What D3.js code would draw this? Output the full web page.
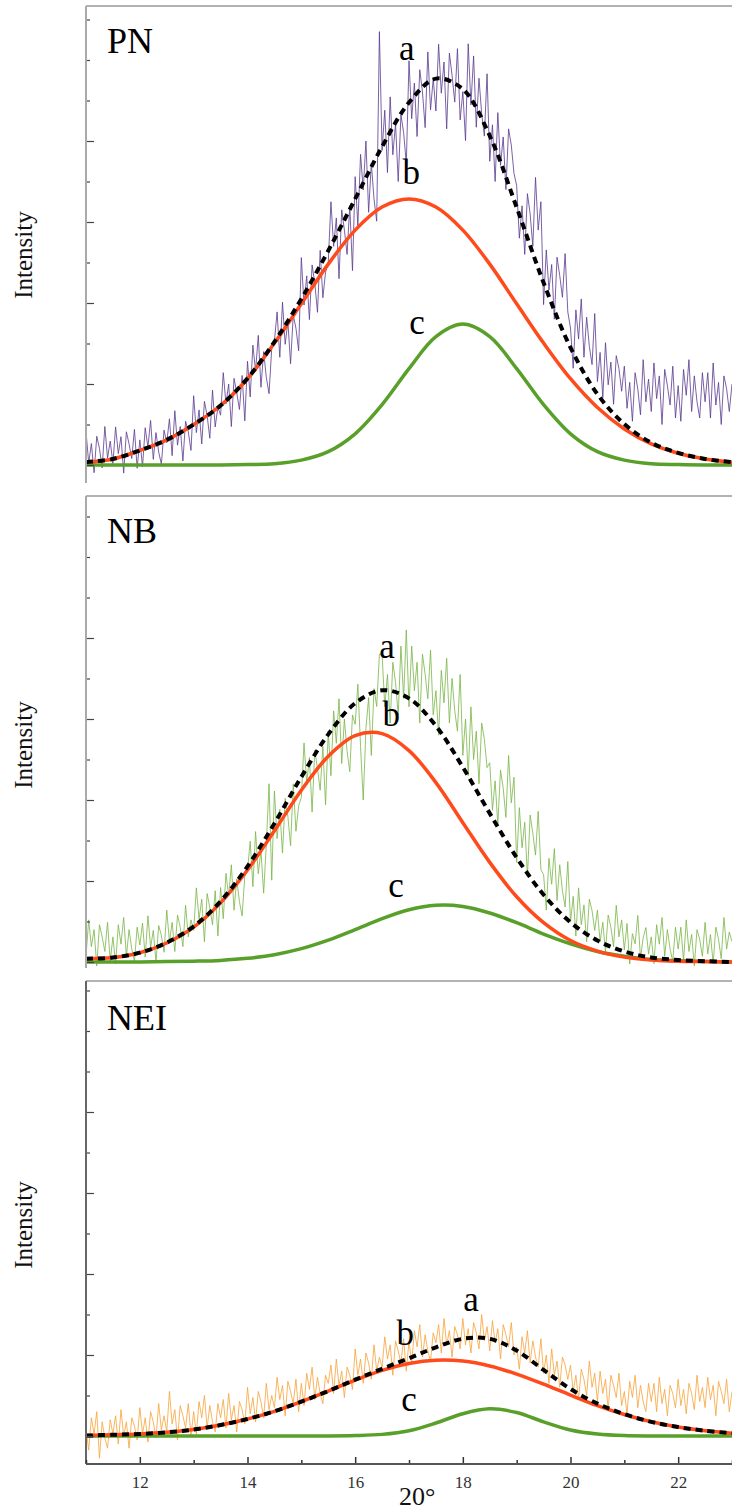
<!DOCTYPE html>
<html>
<head>
<meta charset="utf-8">
<script src="https://cdn.jsdelivr.net/npm/d3@7"></script>
<style>
  body { margin: 0; background: #fff; }
</style>
</head>
<body>
<svg id="vis"></svg>
<script>
const width = 732;
const height = 1510;
const serif = '"Liberation Serif", "Times New Roman", serif';

// axis ticks
const xTicksMajor = [12, 14, 16, 18, 20, 22];
const xTicksMinor = [11, 13, 15, 17, 19, 21, 23];
const yTicksMajor = [0, 2, 4, 6, 8];
const yTicksMinor = [1, 3, 5, 7, 9, 10, 11];

const panelNames = ["PN", "NB", "NEI"];
const noiseColors = ["#5b3c8f", "#7ab648", "#f7a33a"];

// measured pattern, one value every 0.05 deg from 11 to 23 (ten per row = 0.5 deg)
const pnRaw = [
  0.83, 0.05, 0.53, -0.19, 0.71, 0.41, -0.07, 0.95, 0.17, 0.59,
  0.04, 0.94, 0.28, 0.70, -0.20, 0.82, 0.52, 0.16, 0.88, -0.08,
  0.62, -0.04, 0.92, 0.44, 1.10, 0.14, 0.80, 0.32, 0.02, 0.86,
  0.55, 1.14, 0.23, 1.34, 0.49, 0.95, 0.10, 1.08, 0.82, 0.36,
  1.71, 0.80, 1.36, 0.52, 1.57, 1.22, 0.66, 1.85, 0.94, 1.43,
  1.23, 2.28, 1.51, 2.00, 0.95, 2.14, 1.79, 1.37, 2.21, 1.09,
  2.56, 1.68, 2.96, 2.32, 3.20, 1.92, 2.80, 2.16, 1.76, 2.88,
  3.06, 3.78, 2.66, 4.02, 2.98, 3.54, 2.50, 3.70, 3.38, 2.82,
  5.12, 3.95, 4.67, 3.59, 4.94, 4.49, 3.77, 5.30, 4.13, 4.76,
  5.00, 6.50, 5.40, 6.10, 4.60, 6.30, 5.80, 5.20, 6.40, 4.80,
  7.12, 5.91, 7.67, 6.79, 8.00, 6.24, 7.45, 6.57, 6.02, 10.70,
  7.77, 8.76, 7.22, 9.09, 7.66, 8.43, 7.00, 8.65, 8.21, 7.44,
  9.98, 8.55, 9.43, 8.11, 9.76, 9.21, 8.33, 10.20, 8.77, 9.54,
  8.74, 10.39, 9.18, 9.95, 8.30, 10.17, 9.62, 8.96, 10.28, 8.52,
  9.22, 8.01, 10.40, 8.89, 10.10, 8.34, 9.55, 8.67, 8.12, 9.66,
  7.50, 8.40, 7.00, 8.70, 7.40, 8.10, 6.80, 8.30, 7.90, 7.20,
  6.90, 5.60, 6.40, 5.20, 6.70, 6.20, 5.40, 7.10, 5.80, 6.50,
  3.96, 5.31, 4.32, 4.95, 3.60, 5.13, 4.68, 4.14, 5.22, 3.78,
  3.38, 2.39, 3.83, 3.11, 4.10, 2.66, 3.65, 2.93, 2.48, 3.74,
  2.06, 2.78, 1.66, 3.02, 1.98, 2.54, 1.50, 2.70, 2.38, 1.82,
  2.44, 1.40, 2.04, 1.08, 2.28, 1.88, 1.24, 2.60, 1.56, 2.12,
  1.32, 2.52, 1.64, 2.20, 1.00, 2.36, 1.96, 1.48, 2.44, 1.16,
  1.96, 1.08, 2.36, 1.72, 2.60, 1.32, 2.20, 1.56, 1.16, 2.28,
  1.56, 2.28, 1.16, 2.52, 1.48, 2.04, 1.00, 2.20, 1.88, 1.32,
  2.00
];
const nbRaw = [
  0.14, 1.04, 0.38, 0.80, -0.10, 0.92, 0.62, 0.26, 0.98, 0.02,
  0.62, -0.04, 0.92, 0.44, 1.10, 0.14, 0.80, 0.32, 0.02, 0.86,
  0.42, 0.96, 0.12, 1.14, 0.36, 0.78, 0.00, 0.90, 0.66, 0.24,
  1.28, 0.50, 0.98, 0.26, 1.16, 0.86, 0.38, 1.40, 0.62, 1.04,
  0.78, 1.83, 1.06, 1.55, 0.50, 1.69, 1.34, 0.92, 1.76, 0.64,
  1.84, 1.07, 2.19, 1.63, 2.40, 1.28, 2.05, 1.49, 1.14, 2.12,
  2.26, 2.98, 1.86, 3.22, 2.18, 2.74, 1.70, 2.90, 4.40, 2.02,
  4.22, 3.05, 3.77, 2.69, 4.04, 3.59, 2.87, 4.40, 3.23, 3.86,
  4.06, 5.41, 4.42, 5.05, 3.70, 5.23, 4.78, 4.24, 5.32, 3.88,
  5.70, 4.60, 6.20, 5.40, 6.50, 4.90, 6.00, 5.20, 4.70, 6.10,
  5.87, 6.86, 5.32, 4.00, 5.76, 6.53, 5.10, 6.75, 6.31, 7.60,
  7.60, 6.30, 7.10, 5.90, 7.40, 6.90, 6.10, 7.80, 6.50, 8.20,
  6.30, 7.80, 6.70, 7.40, 5.90, 7.60, 7.10, 6.50, 7.70, 6.10,
  6.70, 5.60, 7.20, 6.40, 7.50, 5.90, 7.00, 6.20, 5.70, 7.10,
  5.10, 6.00, 4.60, 6.30, 5.00, 5.70, 4.40, 5.90, 5.50, 4.80,
  4.92, 3.75, 4.47, 3.39, 4.74, 4.29, 3.57, 5.10, 3.93, 4.56,
  2.46, 3.81, 2.82, 3.45, 2.10, 3.63, 3.18, 2.64, 3.72, 2.28,
  2.16, 1.28, 2.56, 1.92, 2.80, 1.52, 2.40, 1.76, 1.36, 2.48,
  0.99, 1.62, 0.64, 1.83, 0.92, 1.41, 0.50, 1.55, 1.27, 0.78,
  1.28, 0.50, 0.98, 0.26, 1.16, 0.86, 0.38, 1.40, 0.62, 1.04,
  0.30, 0.95, -0.05, 0.70, 0.45, 1.15, 0.10, 0.60, 0.85, 0.20,
  0.62, -0.04, 0.92, 0.44, 1.10, 0.14, 0.80, 0.32, 0.02, 0.86,
  0.32, 0.86, 0.02, 1.04, 0.26, 0.68, -0.10, 0.80, 0.56, 0.14,
  0.98, 0.20, 0.68, -0.04, 0.86, 0.56, 0.08, 1.10, 0.32, 0.74,
  0.50
];
const neiRaw = [
  0.20, -0.35, 0.45, 0.05, 0.60, -0.55, 0.35, -0.05, -0.30, 0.40,
  0.05, 0.50, -0.20, 0.65, 0.00, 0.35, -0.30, 0.45, 0.25, -0.10,
  0.70, 0.05, 0.45, -0.15, 0.60, 0.35, -0.05, 0.80, 0.15, 0.50,
  0.10, 1.10, 0.30, 0.65, -0.10, 0.75, 0.50, 0.20, 0.80, 0.00,
  0.60, 0.05, 0.85, 0.45, 1.00, 0.20, 0.75, 0.35, 0.10, 0.80,
  0.45, 0.90, 0.20, 1.05, 0.40, 0.75, 0.10, 0.85, 0.65, 0.30,
  1.20, 0.55, 0.95, 0.35, 1.10, 0.85, 0.45, 1.30, 0.65, 1.00,
  0.70, 1.45, 0.90, 1.25, 0.50, 1.35, 1.10, 0.80, 1.40, 0.60,
  1.30, 0.75, 1.55, 1.15, 1.70, 0.90, 1.45, 1.05, 0.80, 1.50,
  1.30, 1.75, 1.05, 1.90, 1.25, 1.60, 0.95, 1.70, 1.50, 1.15,
  2.15, 1.50, 1.90, 1.30, 2.05, 1.80, 1.40, 2.25, 1.60, 1.95,
  1.70, 2.45, 1.90, 2.25, 1.50, 2.35, 2.10, 1.80, 2.40, 1.60,
  2.35, 1.80, 2.60, 2.20, 2.75, 1.95, 2.50, 2.10, 1.85, 2.55,
  2.30, 2.75, 2.05, 2.90, 2.25, 2.60, 1.95, 2.70, 2.50, 2.15,
  2.90, 2.25, 2.65, 2.05, 2.80, 2.55, 2.15, 3.00, 2.35, 2.70,
  2.10, 2.85, 2.30, 2.65, 1.90, 2.75, 2.50, 2.20, 2.80, 2.00,
  2.20, 1.65, 2.45, 2.05, 2.60, 1.80, 2.35, 1.95, 1.70, 2.40,
  1.55, 2.00, 1.30, 2.15, 1.50, 1.85, 1.20, 1.95, 1.75, 1.40,
  1.75, 1.10, 1.50, 0.90, 1.65, 1.40, 1.00, 1.85, 1.20, 1.55,
  0.85, 1.60, 1.05, 1.40, 0.65, 1.50, 1.25, 0.95, 1.55, 0.75,
  1.10, 0.55, 1.35, 0.95, 1.50, 0.70, 1.25, 0.85, 0.60, 1.30,
  0.85, 1.30, 0.60, 1.45, 0.80, 1.15, 0.50, 1.25, 1.05, 0.70,
  1.40, 0.75, 1.15, 0.55, 1.30, 1.05, 0.65, 1.50, 0.85, 1.20,
  0.70, 1.45, 0.90, 1.25, 0.50, 1.35, 1.10, 0.80, 1.40, 0.60,
  1.10
];

// fitted curves, one value every 0.5 deg from 11 to 23
// a = total fit (dashed), b and c = components
const pnA = [0.07, 0.15, 0.36, 0.62, 1.00, 1.47, 2.14, 3.04, 4.10, 5.29, 6.57, 7.86, 8.95, 9.54, 9.28, 8.13, 6.36, 4.50, 2.90, 1.75, 1.01, 0.55, 0.30, 0.15, 0.07];
const pnB = [0.07, 0.15, 0.36, 0.62, 1.00, 1.47, 2.13, 3.01, 3.98, 4.96, 5.80, 6.37, 6.57, 6.37, 5.80, 4.96, 3.98, 3.01, 2.13, 1.42, 0.89, 0.52, 0.29, 0.15, 0.07];
const pnC = [0, 0, 0, 0, 0, 0, 0.01, 0.03, 0.12, 0.33, 0.77, 1.49, 2.38, 3.17, 3.48, 3.17, 2.38, 1.49, 0.77, 0.33, 0.12, 0.03, 0.01, 0, 0];

const nbA = [0.08, 0.11, 0.23, 0.48, 0.88, 1.50, 2.36, 3.42, 4.57, 5.62, 6.39, 6.71, 6.51, 5.83, 4.81, 3.67, 2.58, 1.66, 0.98, 0.53, 0.26, 0.11, 0.05, 0.02, 0];
const nbB = [0.08, 0.11, 0.23, 0.47, 0.86, 1.46, 2.27, 3.24, 4.24, 5.08, 5.59, 5.64, 5.22, 4.43, 3.44, 2.46, 1.61, 0.97, 0.53, 0.27, 0.12, 0.05, 0.02, 0.01, 0];
const nbC = [0, 0, 0, 0.01, 0.02, 0.04, 0.09, 0.18, 0.33, 0.54, 0.80, 1.07, 1.29, 1.40, 1.37, 1.21, 0.97, 0.69, 0.45, 0.26, 0.14, 0.06, 0.03, 0.01, 0];

const neiA = [0.01, 0.03, 0.05, 0.09, 0.16, 0.27, 0.42, 0.61, 0.85, 1.11, 1.39, 1.66, 1.92, 2.19, 2.40, 2.40, 2.11, 1.63, 1.16, 0.80, 0.54, 0.35, 0.22, 0.13, 0.07];
const neiB = [0.01, 0.03, 0.05, 0.09, 0.16, 0.27, 0.42, 0.61, 0.85, 1.11, 1.38, 1.62, 1.79, 1.87, 1.85, 1.73, 1.53, 1.28, 1.01, 0.75, 0.53, 0.35, 0.22, 0.13, 0.07];
const neiC = [0, 0, 0, 0, 0, 0, 0, 0, 0, 0, 0.01, 0.04, 0.13, 0.32, 0.55, 0.67, 0.58, 0.35, 0.15, 0.05, 0.01, 0, 0, 0, 0];

// curve letters: [text, 2theta, intensity]
const pnLabels = [["a", 16.96, 10.0], ["b", 17.04, 6.94], ["c", 17.15, 3.23]];
const nbLabels = [["a", 16.59, 7.5], ["b", 16.67, 5.83], ["c", 16.76, 1.6]];
const neiLabels = [["a", 18.15, 3.09], ["b", 16.93, 2.25], ["c", 17.0, 0.62]];

const rawSets = [pnRaw, nbRaw, neiRaw];
const fitSets = [[pnA, pnB, pnC], [nbA, nbB, nbC], [neiA, neiB, neiC]];
const labelSets = [pnLabels, nbLabels, neiLabels];

const rawX = d3.range(241).map(i => 11 + i / 20);
const fitX = d3.range(25).map(i => 11 + i / 2);

// panel boxes in pixels: top border, bottom of plot, baseline (intensity 0)
const boxes = [
  { top: 6, bottom: 483, base: 465, axisColor: "#aaa" },
  { top: 496, bottom: 968, base: 962, axisColor: "#aaa" },
  { top: 981, bottom: 1464, base: 1436, axisColor: "#666" }
];
const left = 86, right = 732;
const unit = 40.5;

const svg = d3.select("svg#vis").attr("width", width).attr("height", height);

const x = d3.scaleLinear().domain([11, 23]).range([left, right]);

boxes.forEach((box, p) => {
  const y = d3.scaleLinear().domain([0, 10]).range([box.base, box.base - 10 * unit]);
  const g = svg.append("g");

  g.append("clipPath").attr("id", "clip" + p)
    .append("rect")
    .attr("x", left).attr("y", box.top)
    .attr("width", right - left).attr("height", box.bottom - box.top);

  const plot = g.append("g").attr("clip-path", "url(#clip" + p + ")");

  const rawLine = d3.line().x((d, i) => x(rawX[i])).y(d => y(d));
  plot.append("path")
    .attr("d", rawLine(rawSets[p]))
    .attr("fill", "none")
    .attr("stroke", noiseColors[p])
    .attr("stroke-width", 0.9)
    .attr("stroke-opacity", 0.9);

  const fitLine = d3.line()
    .x((d, i) => x(fitX[i]))
    .y(d => y(d))
    .curve(d3.curveCatmullRom.alpha(0.5));

  const [fa, fb, fc] = fitSets[p];
  plot.append("path").attr("d", fitLine(fc))
    .attr("fill", "none").attr("stroke", "#58a02a").attr("stroke-width", 3.5);
  plot.append("path").attr("d", fitLine(fb))
    .attr("fill", "none").attr("stroke", "#ff4a1c").attr("stroke-width", 3.5);
  plot.append("path").attr("d", fitLine(fa))
    .attr("fill", "none").attr("stroke", "#000").attr("stroke-width", 4)
    .attr("stroke-dasharray", "7,5");

  // top border
  g.append("line")
    .attr("x1", left).attr("x2", right)
    .attr("y1", box.top).attr("y2", box.top)
    .attr("stroke", "#999").attr("stroke-width", 1.5);

  // left axis, ticks pointing inward
  const yAxisG = g.append("g").attr("transform", "translate(" + left + ",0)");
  yAxisG.append("g")
    .call(d3.axisRight(y).tickValues(yTicksMajor).tickSize(8).tickFormat(""))
    .call(s => s.select(".domain").remove());
  yAxisG.append("g")
    .call(d3.axisRight(y).tickValues(yTicksMinor.filter(v => y(v) > box.top + 4)).tickSize(4).tickFormat(""))
    .call(s => s.select(".domain").remove());
  yAxisG.selectAll(".tick line").attr("stroke", "#444").attr("stroke-width", 1.2);
  yAxisG.append("line")
    .attr("x1", 0).attr("x2", 0)
    .attr("y1", box.top).attr("y2", box.bottom)
    .attr("stroke", box.axisColor).attr("stroke-width", 2);

  g.append("text")
    .attr("x", 107).attr("y", [53, 543, 1030][p])
    .style("font-family", serif)
    .style("font-size", "36px")
    .attr("fill", "#000")
    .text(panelNames[p]);

  const midY = [255, 745, 1225][p];
  g.append("text")
    .attr("transform", "translate(32," + midY + ") rotate(-90)")
    .attr("text-anchor", "middle")
    .style("font-family", serif)
    .style("font-size", "25px")
    .attr("fill", "#111")
    .text("Intensity");

  g.selectAll("text.curve")
    .data(labelSets[p])
    .enter()
    .append("text")
    .attr("class", "curve")
    .attr("x", d => x(d[1]))
    .attr("y", d => y(d[2]))
    .attr("text-anchor", "middle")
    .style("font-family", serif)
    .style("font-size", "35px")
    .attr("fill", "#000")
    .text(d => d[0]);

  if (p === 2) {
    const xAxisG = g.append("g").attr("transform", "translate(0," + box.bottom + ")");
    xAxisG.append("g")
      .call(d3.axisBottom(x).tickValues(xTicksMinor).tickSize(-4).tickSizeOuter(0).tickFormat(""))
      .call(s => s.select(".domain").remove());
    xAxisG.append("g")
      .call(d3.axisBottom(x).tickValues(xTicksMajor).tickSize(-7).tickSizeOuter(0).tickPadding(12))
      .call(s => s.select(".domain").remove())
      .call(s => s.selectAll("text")
        .style("font-family", serif)
        .style("font-size", "17px")
        .attr("fill", "#333"));
    xAxisG.selectAll(".tick line").attr("stroke", "#333").attr("stroke-width", 1.5);
    xAxisG.append("line")
      .attr("x1", left).attr("x2", right)
      .attr("y1", 0).attr("y2", 0)
      .attr("stroke", "#555").attr("stroke-width", 2);

    g.append("text")
      .attr("x", 399).attr("y", 1505)
      .style("font-family", serif)
      .style("font-size", "26px")
      .attr("fill", "#111")
      .text("20°");
  }
});
</script>
</body>
</html>
